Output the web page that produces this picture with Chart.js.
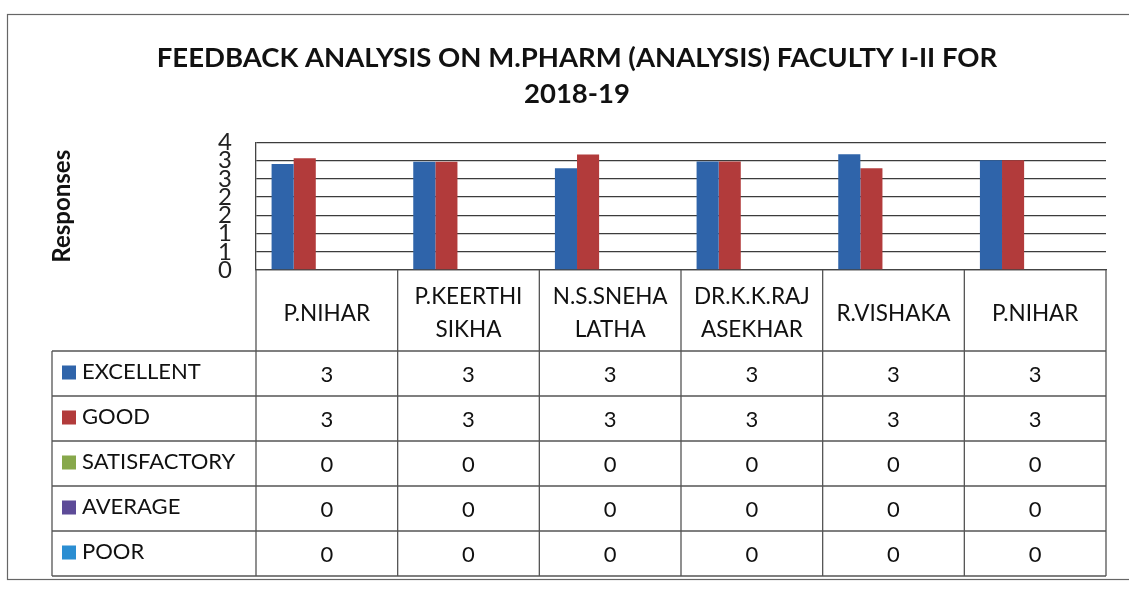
<!DOCTYPE html>
<html>
<head>
<meta charset="utf-8">
<script src="https://cdn.jsdelivr.net/npm/chart.js@4.4.1/dist/chart.umd.min.js"></script>
<style>
  html, body { margin: 0; padding: 0; background: #fff; }
  #wrap { width: 1129px; height: 592px; position: relative; }
</style>
</head>
<body>
<div id="wrap"><canvas id="feedbackChart"></canvas></div>
<script>
// faculty names (header row of the data table)
const categories = [
  ["P.NIHAR"],
  ["P.KEERTHI", "SIKHA"],
  ["N.S.SNEHA", "LATHA"],
  ["DR.K.K.RAJ", "ASEKHAR"],
  ["R.VISHAKA"],
  ["P.NIHAR"]
];

const seriesNames = ["EXCELLENT", "GOOD", "SATISFACTORY", "AVERAGE", "POOR"];

// bar heights (table shows them rounded)
const excellent    = [2.91, 2.97, 2.79, 2.98, 3.18, 3.01];
const good         = [3.07, 2.97, 3.17, 2.98, 2.79, 3.01];
const satisfactory = [0, 0, 0, 0, 0, 0];
const average      = [0, 0, 0, 0, 0, 0];
const poor         = [0, 0, 0, 0, 0, 0];

const yTickLabels = ["0", "1", "1", "2", "2", "3", "3", "4"];

const seriesColors = ["#2F64AA", "#B23B3B", "#87A84B", "#5D4B98", "#2B8ED2"];

const seriesData = [excellent, good, satisfactory, average, poor];

const FONT = "Lato, 'Open Sans', sans-serif";

const dataTable = {
  id: "dataTable",
  afterDraw(chart) {
    const ctx = chart.ctx;
    const x = chart.scales.x;
    const area = chart.chartArea;
    const half = (x.getPixelForValue(1) - x.getPixelForValue(0)) / 2;
    const edges = [];
    for (let i = 0; i <= categories.length; i++) {
      edges.push(x.getPixelForValue(0) - half + i * half * 2);
    }
    const right = edges[edges.length - 1];
    const legendLeft = 52;
    const headTop = area.bottom;
    const headBottom = headTop + 81;
    const rowH = 45;
    const bottom = headBottom + rowH * seriesNames.length;

    ctx.save();

    // outer frame of the scanned chart
    ctx.strokeStyle = "#666";
    ctx.lineWidth = 1.2;
    ctx.strokeRect(7.5, 14.5, 1160, 565);

    ctx.strokeStyle = "#555";
    ctx.lineWidth = 1.3;
    ctx.beginPath();
    for (let k = 0; k <= seriesNames.length; k++) {
      const yy = headBottom + k * rowH;
      ctx.moveTo(legendLeft, yy);
      ctx.lineTo(right, yy);
    }
    edges.forEach(ex => {
      ctx.moveTo(ex, headTop);
      ctx.lineTo(ex, bottom);
    });
    ctx.moveTo(legendLeft, headBottom);
    ctx.lineTo(legendLeft, bottom);
    ctx.stroke();

    ctx.fillStyle = "#111";
    ctx.font = "22.5px " + FONT;
    ctx.textAlign = "center";
    ctx.textBaseline = "middle";

    // header names
    categories.forEach((lines, i) => {
      const cx = x.getPixelForValue(i);
      const cy = (headTop + headBottom) / 2 + 3;
      const lh = 33;
      lines.forEach((t, j) => {
        ctx.fillText(t, cx, cy + (j - (lines.length - 1) / 2) * lh);
      });
    });

    // rows
    ctx.font = "22px " + FONT;
    seriesNames.forEach((name, r) => {
      const cy = headBottom + r * rowH + rowH / 2;
      ctx.fillStyle = seriesColors[r];
      ctx.fillRect(62, cy - 8, 14, 14);
      ctx.fillStyle = "#111";
      ctx.textAlign = "left";
      ctx.fillText(name, 82, cy - 2);
      ctx.textAlign = "center";
      seriesData[r].forEach((v, i) => {
        ctx.fillText(String(Math.round(v)), x.getPixelForValue(i), cy + 1);
      });
    });

    ctx.restore();
  }
};

new Chart(document.getElementById("feedbackChart"), {
  type: "bar",
  data: {
    labels: categories,
    datasets: seriesNames.map((name, i) => ({
      label: name,
      data: seriesData[i],
      backgroundColor: seriesColors[i],
      borderWidth: 0,
      categoryPercentage: 0.78,
      barPercentage: 1
    }))
  },
  options: {
    responsive: true,
    maintainAspectRatio: false,
    animation: false,
    layout: { padding: { left: 48, right: 23, top: 0, bottom: 322 } },
    plugins: {
      legend: { display: false },
      tooltip: { enabled: false },
      title: {
        display: true,
        text: ["FEEDBACK ANALYSIS ON M.PHARM (ANALYSIS) FACULTY I-II FOR", "2018-19"],
        color: "#111",
        font: { family: FONT, size: 27.5, weight: "bold", lineHeight: 1.3 },
        padding: { top: 40, bottom: 31 }
      }
    },
    scales: {
      x: {
        ticks: { display: false },
        grid: { display: false, drawTicks: false },
        border: { color: "#444", width: 1.3 },
        afterFit: s => { s.height = 0; }
      },
      y: {
        min: 0,
        max: 3.5,
        ticks: {
          stepSize: 0.5,
          autoSkip: false,
          padding: 24,
          color: "#222",
          font: { family: FONT, size: 24 },
          callback: (v, i) => yTickLabels[i]
        },
        grid: { color: "#3c3c3c", lineWidth: 1.3, drawTicks: false },
        border: { color: "#444", width: 1.3 },
        title: {
          display: true,
          text: "Responses",
          color: "#111",
          font: { family: FONT, size: 24, weight: "bold" },
          padding: { top: 0, bottom: 0 }
        },
        afterFit: s => { s.width = 208; }
      }
    }
  },
  plugins: [dataTable]
});
</script>
</body>
</html>
